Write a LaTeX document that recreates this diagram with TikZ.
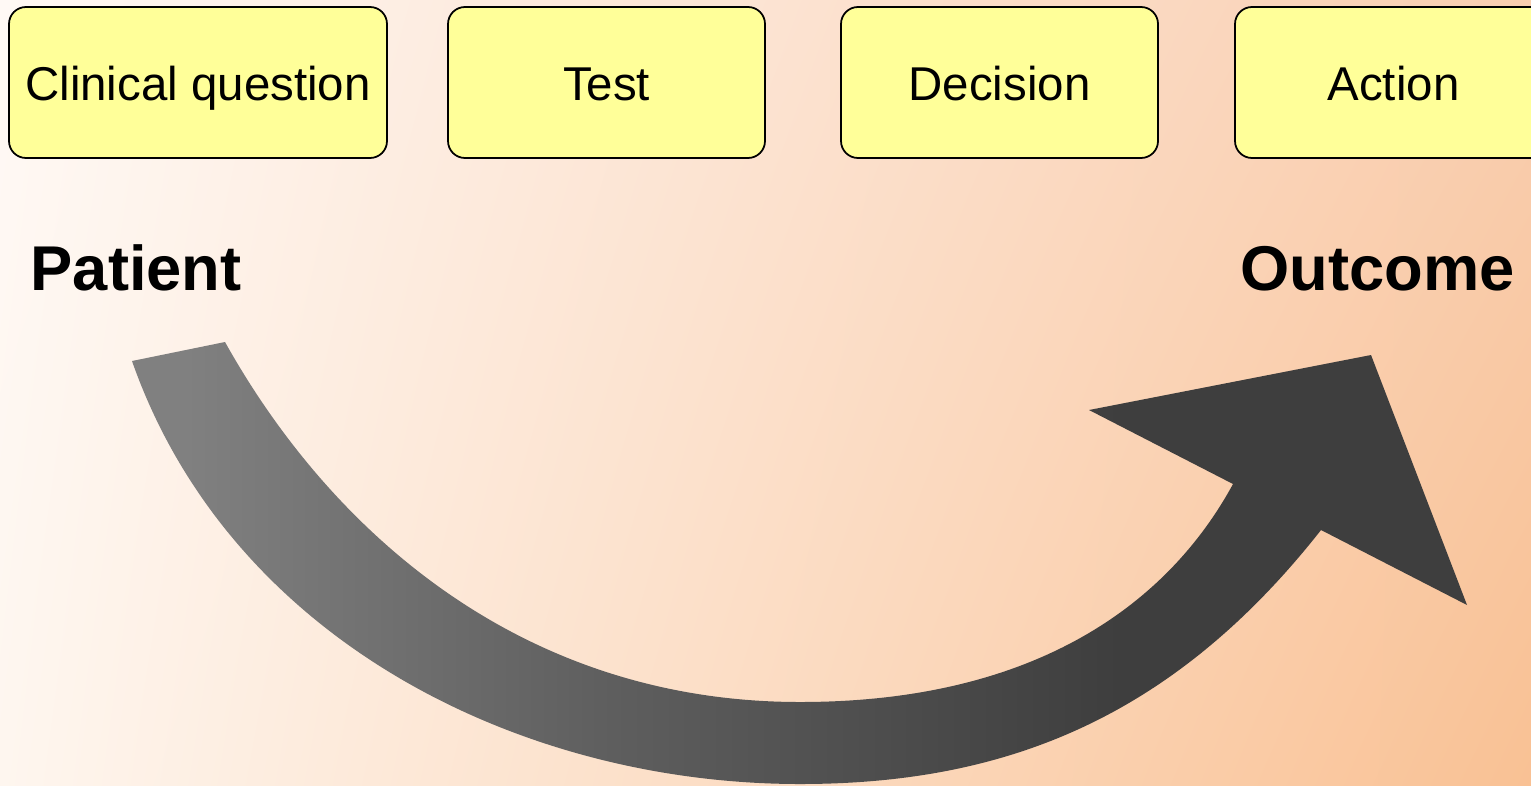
\documentclass[tikz,border=0pt]{standalone}
\usepackage{fontspec}
\setmainfont{Liberation Sans}
\usepackage{tikz}
\usetikzlibrary{positioning,shadings}
\definecolor{bgupleft}{RGB}{255,249,245}
\definecolor{bglowleft}{RGB}{254,246,239}
\definecolor{bgupright}{RGB}{249,206,176}
\definecolor{bglowright}{RGB}{249,193,148}
\definecolor{boxyellow}{RGB}{255,255,153}
\definecolor{arrowlight}{RGB}{128,128,128}
\definecolor{arrowmid}{RGB}{94,94,94}
\definecolor{arrowdark}{RGB}{62,62,62}
\pgfdeclarehorizontalshading{arrowshade}{100bp}{color(0bp)=(arrowlight); color(27bp)=(arrowlight); color(43bp)=(arrowmid); color(62bp)=(arrowdark); color(100bp)=(arrowdark)}
\tikzset{
  stagebox/.style = {draw,fill=boxyellow,line width=0.5pt,rounded corners=0.17cm,
                     minimum width=3.17cm,minimum height=1.51cm,inner sep=0pt,outer sep=0pt,
                     text height=0.45cm,text depth=0.1cm,font=\fontsize{13.5}{16}\selectfont},
  endlabel/.style = {inner sep=0pt,anchor=base west,font=\fontsize{18}{21}\selectfont\bfseries}
}

\begin{document}
\begin{tikzpicture}
  \useasboundingbox (0,0) rectangle (15.31,-7.85);
  \clip (0,0) rectangle (15.31,-7.85);
  \shade[upper left=bgupleft,lower left=bglowleft,upper right=bgupright,lower right=bglowright]
    (0,0) rectangle (15.31,-7.85);
  % the four stages along the top
  \node[stagebox,minimum width=3.78cm] (question) at (1.98,-0.825) {Clinical question};
  \node[stagebox,right=0.61cm of question] (test)     {Test};
  \node[stagebox,right=0.76cm of test]     (decision) {Decision};
  \node[stagebox,right=0.77cm of decision] (action)   {Action};
  \node[endlabel] (patient) at (0.30,-2.90) {Patient};
  \node[endlabel] (outcome) at (12.40,-2.90) {Outcome};
  % the big curved arrow, tail under Patient, head under Outcome
  \shade[shading=arrowshade]
    (1.32,-3.61) -- (2.25,-3.42)
    .. controls (3.30,-5.30) and (5.20,-7.02) .. (8.00,-7.02)
    .. controls (10.40,-7.02) and (11.70,-6.00) .. (12.33,-4.84)
    -- (10.89,-4.10) -- (13.71,-3.55) -- (14.67,-6.05) -- (13.21,-5.30)
    .. controls (11.70,-7.22) and (10.00,-7.84) .. (8.00,-7.84)
    .. controls (5.20,-7.84) and (2.30,-6.40) .. (1.32,-3.61) -- cycle;
\end{tikzpicture}
\end{document}
